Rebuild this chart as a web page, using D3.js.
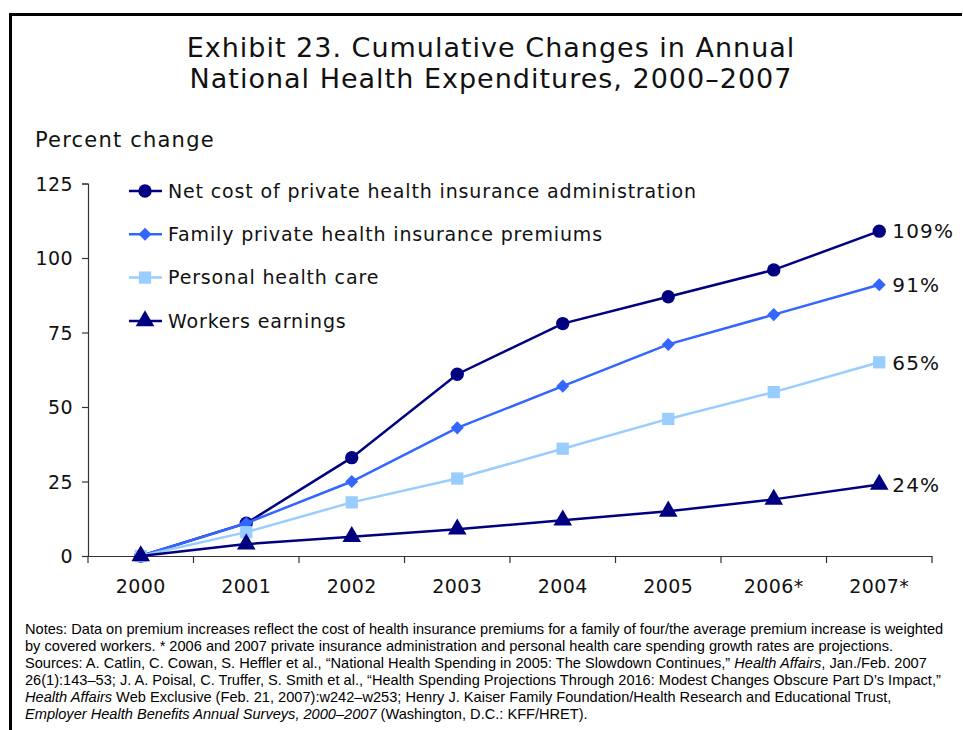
<!DOCTYPE html>
<html>
<head>
<meta charset="utf-8">
<script src="https://cdn.jsdelivr.net/npm/d3@7/dist/d3.min.js"></script>
<style>
  html, body { margin: 0; padding: 0; background: #fff; }
  svg { display: block; }
</style>
</head>
<body>
<svg id="chart" width="963" height="730"></svg>
<script>
// ---------- DATA ----------
const years = ["2000", "2001", "2002", "2003", "2004", "2005", "2006*", "2007*"];
const netCostAdmin = [0, 11, 33, 61, 78, 87, 96, 109];
const familyPremiums = [0, 11, 25, 43, 57, 71, 81, 91];
const personalHealthCare = [0, 8, 18, 26, 36, 46, 55, 65];
const workersEarnings = [0, 4, 6.5, 9, 12, 15, 19, 24];
const seriesNames = [
  "Net cost of private health insurance administration",
  "Family private health insurance premiums",
  "Personal health care",
  "Workers earnings"
];
const endLabels = ["109%", "91%", "65%", "24%"];
const yTicks = [0, 25, 50, 75, 100, 125];
const titleLines = [
  "Exhibit 23. Cumulative Changes in Annual",
  "National Health Expenditures, 2000\u20132007"
];
const yAxisTitle = "Percent change";

// ---------- STYLE ----------
const colors = ["#000080", "#3366FF", "#99CCFF", "#000080"];
const FONT = "'DejaVu Sans', Verdana, sans-serif";

// marker shapes: circle, diamond (rotated square), square, triangle
const symbolDefs = [
  {type: d3.symbolCircle, size: 140, rot: 0},
  {type: d3.symbolSquare, size: 85, rot: 45},
  {type: d3.symbolSquare, size: 150, rot: 0},
  {type: d3.symbolTriangle, size: 150, rot: 0}
];

const series = [netCostAdmin, familyPremiums, personalHealthCare, workersEarnings].map((vals, i) => ({
  name: seriesNames[i], values: vals, color: colors[i], sym: symbolDefs[i], label: endLabels[i]
}));

const svg = d3.select("#chart");

// frame (left and top border)
svg.append("path")
  .attr("d", "M10.5,730 L10.5,14.5 L962,14.5")
  .attr("fill", "none").attr("stroke", "#000").attr("stroke-width", 3);

// title
svg.append("g").selectAll("text").data(titleLines).join("text")
  .attr("x", 491).attr("y", (d, i) => 57 + i * 31)
  .attr("text-anchor", "middle")
  .attr("font-family", FONT).attr("font-size", 27).attr("letter-spacing", 1)
  .attr("fill", "#111")
  .text(d => d);

svg.append("text")
  .attr("x", 35).attr("y", 147)
  .attr("font-family", FONT).attr("font-size", 21).attr("letter-spacing", 1.2).attr("fill", "#111")
  .text(yAxisTitle);

// scales
const x = d3.scaleBand().domain(years).range([88, 932]);
const y = d3.scaleLinear().domain([0, 125]).range([556, 183.5]);
const cx = d => x(d) + x.bandwidth() / 2;

// y axis
const yAxis = d3.axisLeft(y).tickValues(yTicks).tickSize(6).tickPadding(9);
const gy = svg.append("g").attr("transform", "translate(88,0)").call(yAxis);
gy.select(".domain").attr("stroke", "#333").attr("stroke-width", 1.2);
gy.selectAll(".tick line").attr("stroke", "#333").attr("stroke-width", 1.2);
gy.selectAll(".tick text").attr("font-family", FONT).attr("font-size", 19).attr("letter-spacing", 0.4).attr("fill", "#111").attr("dy", "0.36em");

// x axis
const xAxis = d3.axisBottom(x).tickSize(0).tickPadding(24);
const gx = svg.append("g").attr("transform", "translate(0,556)").call(xAxis);
gx.select(".domain").attr("stroke", "#333").attr("stroke-width", 1.2);
gx.selectAll(".tick text").attr("font-family", FONT).attr("font-size", 19).attr("letter-spacing", 0.4).attr("fill", "#111");
// boundary ticks between categories
const boundaries = years.map(d => x(d)).concat([x.range()[1]]);
gx.append("g").selectAll("line").data(boundaries).join("line")
  .attr("x1", d => d).attr("x2", d => d).attr("y1", 0).attr("y2", 7)
  .attr("stroke", "#333").attr("stroke-width", 1.2);

// lines and markers
const line = d3.line().x((d, i) => cx(years[i])).y(d => y(d));
const gs = svg.append("g").selectAll("g").data(series).join("g");
gs.append("path")
  .attr("d", d => line(d.values))
  .attr("fill", "none").attr("stroke", d => d.color).attr("stroke-width", 2.5);
gs.each(function(s) {
  d3.select(this).selectAll("path.m").data(s.values).join("path")
    .attr("class", "m")
    .attr("transform", (v, i) => `translate(${cx(years[i])},${y(v)}) rotate(${s.sym.rot})`)
    .attr("d", d3.symbol().type(s.sym.type).size(s.sym.size))
    .attr("fill", s.color);
});

// end labels
svg.append("g").selectAll("text").data(series).join("text")
  .attr("x", cx(years[years.length - 1]) + 13)
  .attr("y", d => y(d.values[d.values.length - 1]))
  .attr("dy", "0.36em")
  .attr("font-family", FONT).attr("font-size", 20).attr("letter-spacing", 1.2).attr("fill", "#111")
  .text(d => d.label);

// legend
const lg = svg.append("g").selectAll("g").data(series).join("g")
  .attr("transform", (d, i) => `translate(0,${191 + i * 43.3})`);
lg.append("line").attr("x1", 129).attr("x2", 162).attr("y1", 0).attr("y2", 0)
  .attr("stroke", d => d.color).attr("stroke-width", 2.5);
lg.append("path").attr("transform", d => `translate(145,0) rotate(${d.sym.rot})`)
  .attr("d", d => d3.symbol().type(d.sym.type).size(d.sym.size)())
  .attr("fill", d => d.color);
lg.append("text").attr("x", 168).attr("dy", "0.36em")
  .attr("font-family", FONT).attr("font-size", 19).attr("letter-spacing", 0.85).attr("fill", "#111")
  .text(d => d.name);

// notes
const notes = [
  [{t: "Notes: Data on premium increases reflect the cost of health insurance premiums for a family of four/the average premium increase is weighted"}],
  [{t: "by covered workers. * 2006 and 2007 private insurance administration and personal health care spending growth rates are projections."}],
  [{t: "Sources: A. Catlin, C. Cowan, S. Heffler et al., \u201cNational Health Spending in 2005: The Slowdown Continues,\u201d "}, {t: "Health Affairs", i: true}, {t: ", Jan./Feb. 2007"}],
  [{t: "26(1):143\u201353; J. A. Poisal, C. Truffer, S. Smith et al., \u201cHealth Spending Projections Through 2016: Modest Changes Obscure Part D\u2019s Impact,\u201d"}],
  [{t: "Health Affairs", i: true}, {t: " Web Exclusive (Feb. 21, 2007):w242\u2013w253; Henry J. Kaiser Family Foundation/Health Research and Educational Trust,"}],
  [{t: "Employer Health Benefits Annual Surveys, 2000\u20132007", i: true}, {t: " (Washington, D.C.: KFF/HRET)."}]
];
const nt = svg.append("g").selectAll("text").data(notes).join("text")
  .attr("x", 25).attr("y", (d, i) => 634 + i * 17)
  .attr("font-family", "'Liberation Sans', Arial, sans-serif").attr("font-size", 14.6).attr("fill", "#000");
nt.selectAll("tspan").data(d => d).join("tspan")
  .attr("font-style", d => d.i ? "italic" : "normal")
  .text(d => d.t);
</script>
</body>
</html>
